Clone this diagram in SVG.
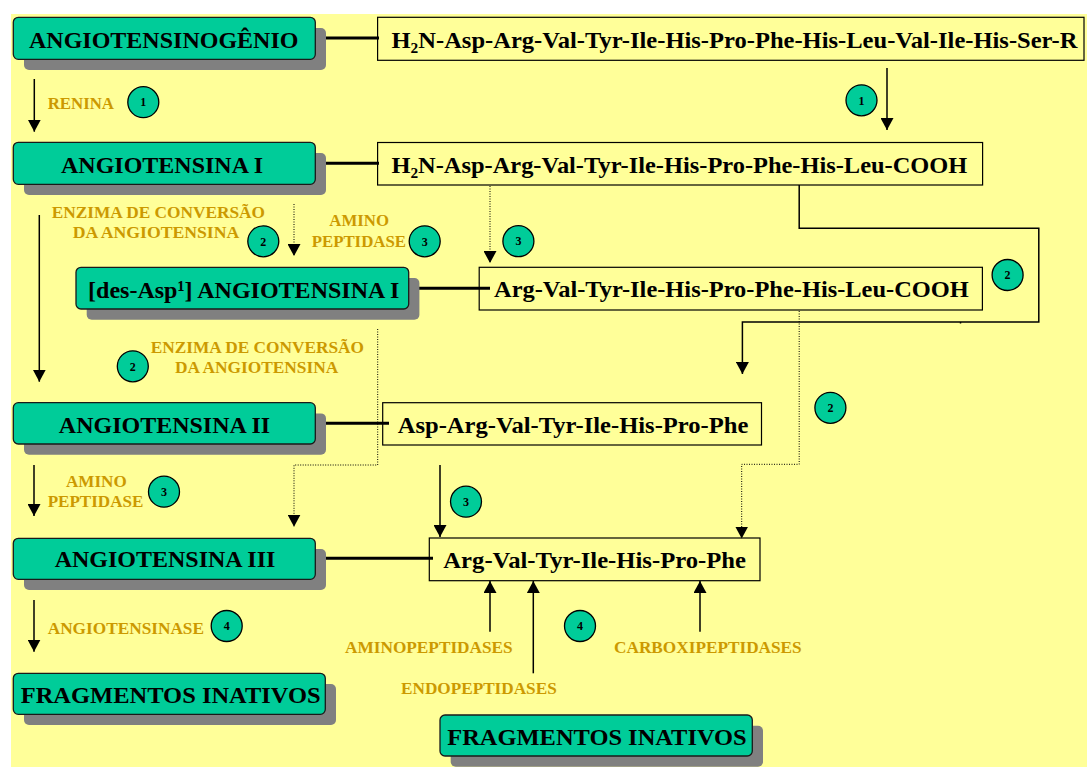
<svg xmlns="http://www.w3.org/2000/svg" width="1087" height="767" viewBox="0 0 1087 767">
  <defs>
    <marker id="head" viewBox="0 0 12 13" refX="12" refY="6.5" markerWidth="12" markerHeight="13" markerUnits="userSpaceOnUse" orient="auto">
      <path d="M0,0 L12,6.5 L0,13 z" fill="#000"/>
    </marker>
    <style>
      text { font-family: "Liberation Serif", "Times New Roman", serif; font-weight: bold; }
      .node { fill: #00CC99; stroke: #1a1a1a; stroke-width: 1.3; }
      .shadow { fill: #808080; }
      .ntext { font-size: 24px; fill: #000; text-anchor: middle; }
      .seq { fill: none; stroke: #000; stroke-width: 1.2; }
      .stext { font-size: 24px; fill: #000; }
      .enz { font-size: 17px; fill: #CC9900; }
      .badge { fill: #00CC99; stroke: #000; stroke-width: 1.3; }
      .num { font-size: 12px; fill: #000; text-anchor: middle; }
      .link { stroke: #000; stroke-width: 3; fill: none; }
      .arrow { stroke: #000; stroke-width: 1.5; fill: none; marker-end: url(#head); }
      .plain { stroke: #000; stroke-width: 1.5; fill: none; }
      .dots { stroke: #000; stroke-width: 1; stroke-dasharray: 1 1.5; fill: none; marker-end: url(#head); }
    </style>
  </defs>

  <!-- page -->
  <rect x="0" y="0" width="1087" height="767" fill="#fff"/>
  <rect x="11" y="14" width="1076" height="753" fill="#FFFF99"/>

  <!-- connectors -->
  <g id="connectors">
    <line class="link" x1="325" y1="38" x2="379" y2="38"/>
    <line class="link" x1="325" y1="163.3" x2="379" y2="163.3"/>
    <line class="link" x1="419" y1="288.3" x2="490" y2="288.3"/>
    <line class="link" x1="325" y1="423.3" x2="389" y2="423.3"/>
    <line class="link" x1="325" y1="558.3" x2="433" y2="558.3"/>

    <line class="arrow" x1="34.3" y1="79" x2="34.3" y2="131.7"/>
    <line class="arrow" x1="887" y1="68" x2="887" y2="130"/>
    <line class="arrow" x1="39.3" y1="215" x2="39.3" y2="381.7"/>
    <line class="dots" x1="294" y1="204" x2="294" y2="256"/>
    <line class="dots" x1="490" y1="186" x2="490" y2="263"/>
    <polyline class="arrow" points="799.2,185 799.2,228.3 1038.8,228.3 1038.8,322 742.4,322 742.4,374"/>
    <line class="plain" x1="960.5" y1="322" x2="960.5" y2="323.5"/>
    <polyline class="dots" points="377.7,329 377.7,465 294,465 294,526.7"/>
    <polyline class="dots" points="799.2,311 799.2,464.3 741.7,464.3 741.7,538.5"/>
    <line class="arrow" x1="34" y1="465" x2="34" y2="516"/>
    <line class="arrow" x1="440" y1="465" x2="440" y2="537"/>
    <line class="arrow" x1="34" y1="600" x2="34" y2="651.7"/>
    <line class="arrow" x1="490" y1="631.7" x2="490" y2="581"/>
    <line class="arrow" x1="533.3" y1="673.3" x2="533.3" y2="581"/>
    <line class="arrow" x1="700" y1="631.7" x2="700" y2="581"/>
  </g>

  <!-- enzyme labels -->
  <g id="enzymes">
    <text class="enz" x="47.7" y="109" textLength="66.3" lengthAdjust="spacingAndGlyphs">RENINA</text>
    <text class="enz" x="51.7" y="218.3" textLength="213.3" lengthAdjust="spacingAndGlyphs">ENZIMA DE CONVERSÃO</text>
    <text class="enz" x="72.7" y="238.3" textLength="166.6" lengthAdjust="spacingAndGlyphs">DA ANGIOTENSINA</text>
    <text class="enz" x="329.3" y="226" textLength="59.7" lengthAdjust="spacingAndGlyphs">AMINO</text>
    <text class="enz" x="311.7" y="246.7" textLength="94.3" lengthAdjust="spacingAndGlyphs">PEPTIDASE</text>
    <text class="enz" x="150.7" y="353.3" textLength="213.3" lengthAdjust="spacingAndGlyphs">ENZIMA DE CONVERSÃO</text>
    <text class="enz" x="175" y="373.3" textLength="163.3" lengthAdjust="spacingAndGlyphs">DA ANGIOTENSINA</text>
    <text class="enz" x="66" y="486.7" textLength="60.7" lengthAdjust="spacingAndGlyphs">AMINO</text>
    <text class="enz" x="47.7" y="507.3" textLength="95.6" lengthAdjust="spacingAndGlyphs">PEPTIDASE</text>
    <text class="enz" x="47.7" y="634.3" textLength="156.3" lengthAdjust="spacingAndGlyphs">ANGIOTENSINASE</text>
    <text class="enz" x="345" y="653.3" textLength="167.7" lengthAdjust="spacingAndGlyphs">AMINOPEPTIDASES</text>
    <text class="enz" x="614" y="653.3" textLength="187.7" lengthAdjust="spacingAndGlyphs">CARBOXIPEPTIDASES</text>
    <text class="enz" x="401" y="694" textLength="155.7" lengthAdjust="spacingAndGlyphs">ENDOPEPTIDASES</text>
  </g>

  <!-- numbered enzyme badges -->
  <g id="badges">
    <circle class="badge" cx="143.3" cy="102.2" r="15.5"/><text class="num" x="143.3" y="106.4">1</text>
    <circle class="badge" cx="861.5" cy="100.3" r="15.5"/><text class="num" x="861.5" y="104.5">1</text>
    <circle class="badge" cx="263.3" cy="241.3" r="15.5"/><text class="num" x="263.3" y="245.5">2</text>
    <circle class="badge" cx="424.7" cy="241.3" r="15.5"/><text class="num" x="424.7" y="245.5">3</text>
    <circle class="badge" cx="518.4" cy="241.2" r="15.5"/><text class="num" x="518.4" y="245.4">3</text>
    <circle class="badge" cx="1007.6" cy="275" r="15.5"/><text class="num" x="1007.6" y="279.2">2</text>
    <circle class="badge" cx="132.8" cy="366.3" r="15.5"/><text class="num" x="132.8" y="370.5">2</text>
    <circle class="badge" cx="830.4" cy="407.8" r="15.5"/><text class="num" x="830.4" y="412">2</text>
    <circle class="badge" cx="164" cy="491.7" r="15.5"/><text class="num" x="164" y="495.9">3</text>
    <circle class="badge" cx="466" cy="501.7" r="15.5"/><text class="num" x="466" y="505.9">3</text>
    <circle class="badge" cx="226.7" cy="626" r="15.5"/><text class="num" x="226.7" y="630.2">4</text>
    <circle class="badge" cx="580" cy="626" r="15.5"/><text class="num" x="580" y="630.2">4</text>
  </g>

  <!-- peptide sequences -->
  <g id="seq-angiotensinogen">
    <rect class="seq" x="377.6" y="17.3" width="706.4" height="43"/>
    <text class="stext" x="391.5" y="48.3" textLength="686" lengthAdjust="spacingAndGlyphs">H<tspan font-size="15" dy="5">2</tspan><tspan dy="-5">N-Asp-Arg-Val-Tyr-Ile-His-Pro-Phe-His-Leu-Val-Ile-His-Ser-R</tspan></text>
  </g>
  <g id="seq-ang1">
    <rect class="seq" x="377.6" y="142.5" width="605" height="42.5"/>
    <text class="stext" x="391.5" y="173.3" textLength="575.8" lengthAdjust="spacingAndGlyphs">H<tspan font-size="15" dy="5">2</tspan><tspan dy="-5">N-Asp-Arg-Val-Tyr-Ile-His-Pro-Phe-His-Leu-COOH</tspan></text>
  </g>
  <g id="seq-desasp">
    <rect class="seq" x="479.2" y="267.3" width="503.2" height="42.7"/>
    <text class="stext" x="494" y="296.7" textLength="474.8" lengthAdjust="spacingAndGlyphs">Arg-Val-Tyr-Ile-His-Pro-Phe-His-Leu-COOH</text>
  </g>
  <g id="seq-ang2">
    <rect class="seq" x="382.7" y="402.7" width="378.8" height="42.3"/>
    <text class="stext" x="397.7" y="432.7" textLength="350.6" lengthAdjust="spacingAndGlyphs">Asp-Arg-Val-Tyr-Ile-His-Pro-Phe</text>
  </g>
  <g id="seq-ang3">
    <rect class="seq" x="429.3" y="538" width="330.7" height="42.7"/>
    <text class="stext" x="443.3" y="567.7" textLength="302.7" lengthAdjust="spacingAndGlyphs">Arg-Val-Tyr-Ile-His-Pro-Phe</text>
  </g>

  <!-- peptide nodes -->
  <g id="node-angiotensinogenio">
    <rect class="shadow" x="24" y="28" width="302" height="42" rx="5"/>
    <rect class="node" x="13.3" y="17.3" width="302" height="42" rx="5"/>
    <text class="ntext" x="163.7" y="47.7">ANGIOTENSINOGÊNIO</text>
  </g>
  <g id="node-angiotensina-1">
    <rect class="shadow" x="24" y="153" width="302" height="42" rx="5"/>
    <rect class="node" x="13.3" y="142.3" width="302" height="42" rx="5"/>
    <text class="ntext" x="162" y="172.7">ANGIOTENSINA I</text>
  </g>
  <g id="node-desasp-angiotensina-1">
    <rect class="shadow" x="86.7" y="278" width="332.7" height="41.7" rx="5"/>
    <rect class="node" x="76" y="267.3" width="332.7" height="41.7" rx="5"/>
    <text class="ntext" x="243.7" y="297.7">[des-Asp¹] ANGIOTENSINA I</text>
  </g>
  <g id="node-angiotensina-2">
    <rect class="shadow" x="24" y="413.4" width="302" height="41.3" rx="5"/>
    <rect class="node" x="13.3" y="402.7" width="302" height="41.3" rx="5"/>
    <text class="ntext" x="164.5" y="432.7">ANGIOTENSINA II</text>
  </g>
  <g id="node-angiotensina-3">
    <rect class="shadow" x="24" y="549" width="302" height="41" rx="5"/>
    <rect class="node" x="13.3" y="538.3" width="302" height="41" rx="5"/>
    <text class="ntext" x="165" y="566.7">ANGIOTENSINA III</text>
  </g>
  <g id="node-fragmentos-1">
    <rect class="shadow" x="24" y="684" width="312" height="41" rx="5"/>
    <rect class="node" x="13.3" y="673.3" width="312" height="41" rx="5"/>
    <text class="ntext" x="170.7" y="702.7" textLength="300" lengthAdjust="spacingAndGlyphs">FRAGMENTOS INATIVOS</text>
  </g>
  <g id="node-fragmentos-2">
    <rect class="shadow" x="450.7" y="725.7" width="312.3" height="41" rx="5"/>
    <rect class="node" x="440" y="715" width="312.3" height="41" rx="5"/>
    <text class="ntext" x="597" y="745" textLength="299.4" lengthAdjust="spacingAndGlyphs">FRAGMENTOS INATIVOS</text>
  </g>
</svg>
